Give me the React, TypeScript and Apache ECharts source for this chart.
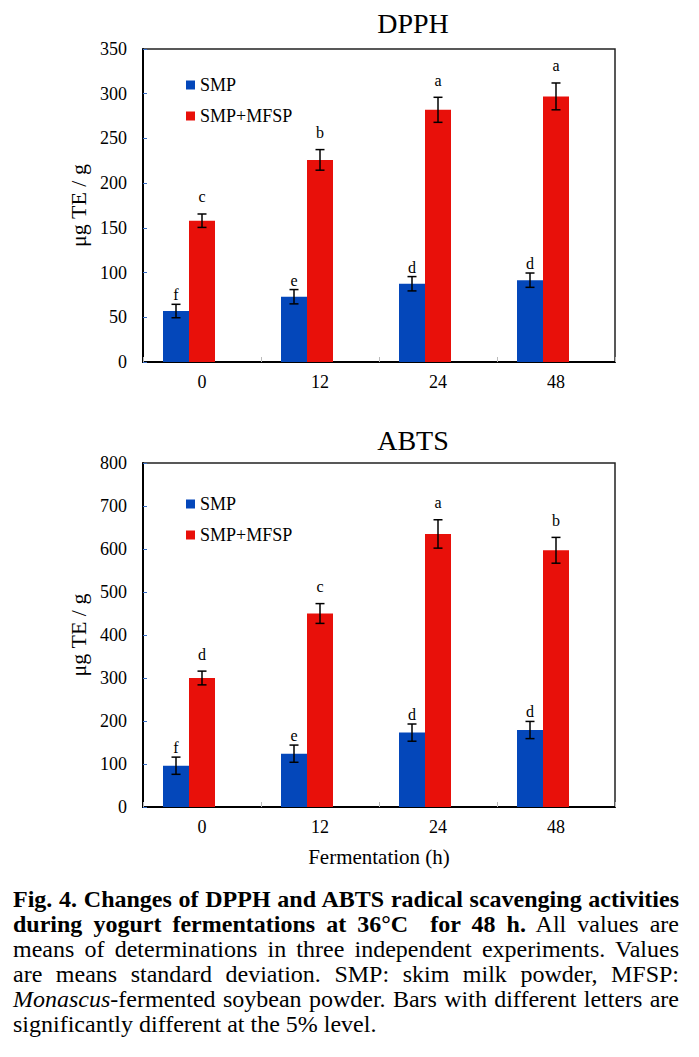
import React, { useEffect, useRef } from 'react';
import * as echarts from 'echarts';

const categories = ['0', '12', '24', '48'];
const seriesNames = ['SMP', 'SMP+MFSP'];

const dpphSMP = [57, 73, 87.5, 91.5];
const dpphSMPsd = [7.5, 8, 8, 8];
const dpphSMPletters = ['f', 'e', 'd', 'd'];
const dpphMFSP = [158, 226, 282, 297];
const dpphMFSPsd = [7.5, 11.5, 14, 15];
const dpphMFSPletters = ['c', 'b', 'a', 'a'];

const abtsSMP = [96, 124, 173, 179];
const abtsSMPsd = [20, 20, 20, 20];
const abtsSMPletters = ['f', 'e', 'd', 'd'];
const abtsMFSP = [300, 450, 635, 597];
const abtsMFSPsd = [16, 23, 33, 30];
const abtsMFSPletters = ['d', 'c', 'a', 'b'];

const dpphAxis = { min: 0, max: 350, interval: 50 };
const abtsAxis = { min: 0, max: 800, interval: 100 };

const titles = ['DPPH', 'ABTS'];
const yName = 'μg TE / g';
const xName = 'Fermentation (h)';

const FONT = '"Liberation Serif", "Times New Roman", serif';
const BLUE = '#0447BA';
const RED = '#E8100A';

function errorSeries(gridIdx: number, means: number[], sds: number[], letters: string[], offset: number, gap: number) {
  return {
    type: 'custom',
    xAxisIndex: gridIdx,
    yAxisIndex: gridIdx,
    data: means.map((m, i) => [i, m, sds[i]]),
    encode: { x: 0, y: 1 },
    z: 10,
    silent: true,
    renderItem: (params: any, api: any) => {
      const i = api.value(0);
      const m = api.value(1);
      const s = api.value(2);
      const top = api.coord([i, m + s]);
      const bot = api.coord([i, m - s]);
      const x = top[0] + offset;
      const hw = 4.5;
      const ls = { stroke: '#000', lineWidth: 1.5 };
      return {
        type: 'group',
        children: [
          { type: 'line', shape: { x1: x, y1: top[1], x2: x, y2: bot[1] }, style: ls },
          { type: 'line', shape: { x1: x - hw, y1: top[1], x2: x + hw, y2: top[1] }, style: ls },
          { type: 'line', shape: { x1: x - hw, y1: bot[1], x2: x + hw, y2: bot[1] }, style: ls },
          {
            type: 'text',
            x: x,
            y: top[1] - gap,
            style: {
              text: letters[params.dataIndex],
              align: 'center',
              verticalAlign: 'bottom',
              font: '16px ' + FONT,
              fill: '#000',
            },
          },
        ],
      };
    },
  };
}

function barSeries(gridIdx: number, name: string, data: number[], color: string) {
  return {
    type: 'bar',
    name,
    xAxisIndex: gridIdx,
    yAxisIndex: gridIdx,
    data,
    barWidth: 26,
    barGap: '0%',
    itemStyle: { color },
    silent: true,
  };
}

function ghostSeries(gridIdx: number) {
  return {
    type: 'bar',
    name: 'ghost' + gridIdx,
    xAxisIndex: gridIdx,
    yAxisIndex: gridIdx,
    data: categories.map(() => null),
    barWidth: 26,
    barGap: '0%',
    silent: true,
  };
}

const grids = [
  { left: 143, top: 49, width: 472, height: 313 },
  { left: 143, top: 463, width: 472, height: 344 },
];

function makeX(gridIdx: number, withName: boolean) {
  return {
    gridIndex: gridIdx,
    type: 'category',
    data: categories,
    axisLine: { show: true, lineStyle: { color: '#000', width: 2 } },
    axisTick: { show: true, inside: true, length: 5, lineStyle: { color: '#bbbbbb', width: 1 } },
    axisLabel: { fontSize: 18, color: '#000', fontFamily: FONT, margin: 11 },
    name: withName ? xName : '',
    nameLocation: 'middle',
    nameGap: 39,
    nameTextStyle: { fontSize: 21, color: '#000', fontFamily: FONT },
  };
}

function makeY(gridIdx: number, ax: { min: number; max: number; interval: number }) {
  return {
    gridIndex: gridIdx,
    type: 'value',
    min: ax.min,
    max: ax.max,
    interval: ax.interval,
    splitLine: { show: false },
    axisLine: { show: true, lineStyle: { color: '#000', width: 2 } },
    axisTick: { show: true, inside: true, length: 4, lineStyle: { color: '#3a6fc4', width: 1 } },
    axisLabel: { fontSize: 18, color: '#000', fontFamily: FONT, margin: 16 },
    name: yName,
    nameLocation: 'middle',
    nameGap: 47,
    nameTextStyle: { fontSize: 22, color: '#000', fontFamily: FONT },
  };
}

const justify: React.CSSProperties = { textAlign: 'justify', textAlignLast: 'justify' as any };

export default function App() {
  const ref = useRef<HTMLDivElement>(null);
  useEffect(() => {
    if (!ref.current) return;
    const chart = echarts.init(ref.current, undefined, { renderer: 'svg' });
    chart.setOption({
      animation: false,
      backgroundColor: '#fff',
      title: [
        { text: titles[0], left: 408, top: 4, textAlign: 'center', textStyle: { fontSize: 28, fontWeight: 'normal', color: '#000', fontFamily: FONT } },
        { text: titles[1], left: 408, top: 421, textAlign: 'center', textStyle: { fontSize: 28, fontWeight: 'normal', color: '#000', fontFamily: FONT } },
      ],
      legend: [
        {
          data: seriesNames,
          left: 181,
          top: 71,
          orient: 'vertical',
          itemWidth: 9,
          itemHeight: 9,
          itemGap: 13,
          icon: 'rect',
          selectedMode: false,
          textStyle: { fontSize: 18, color: '#000', fontFamily: FONT },
        },
        {
          data: seriesNames,
          left: 181,
          top: 490,
          orient: 'vertical',
          itemWidth: 9,
          itemHeight: 9,
          itemGap: 13,
          icon: 'rect',
          selectedMode: false,
          textStyle: { fontSize: 18, color: '#000', fontFamily: FONT },
        },
      ],
      grid: grids.map((g) => ({ ...g, show: true, borderColor: '#222', borderWidth: 1.5, backgroundColor: 'transparent' })),
      xAxis: [makeX(0, false), makeX(1, true)],
      yAxis: [makeY(0, dpphAxis), makeY(1, abtsAxis)],
      series: [
        barSeries(0, seriesNames[0], dpphSMP, BLUE),
        barSeries(0, seriesNames[1], dpphMFSP, RED),
        ghostSeries(0),
        barSeries(1, seriesNames[0], abtsSMP, BLUE),
        barSeries(1, seriesNames[1], abtsMFSP, RED),
        ghostSeries(1),
        errorSeries(0, dpphSMP, dpphSMPsd, dpphSMPletters, -26, 1.5),
        errorSeries(0, dpphMFSP, dpphMFSPsd, dpphMFSPletters, 0, 9),
        errorSeries(1, abtsSMP, abtsSMPsd, abtsSMPletters, -26, 1.5),
        errorSeries(1, abtsMFSP, abtsMFSPsd, abtsMFSPletters, 0, 9),
      ],
    });
    return () => chart.dispose();
  }, []);

  return (
    <div style={{ position: 'absolute', left: 0, top: 0, width: 699, height: 1057, background: '#fff', overflow: 'hidden' }}>
      <div ref={ref} style={{ position: 'absolute', left: 0, top: 0, width: 699, height: 880 }} />
      <div
        style={{
          position: 'absolute',
          left: 13,
          top: 887,
          width: 666,
          fontFamily: FONT,
          fontSize: 24,
          lineHeight: '25px',
          color: '#000',
        }}
      >
        <div style={justify}><b>Fig. 4. Changes of DPPH and ABTS radical scavenging activities</b></div>
        <div style={justify}><b>during yogurt fermentations at 36°C&nbsp; for 48 h.</b> All values are</div>
        <div style={justify}>means of determinations in three independent experiments. Values</div>
        <div style={justify}>are means standard deviation. SMP: skim milk powder, MFSP:</div>
        <div style={justify}><i>Monascus</i>-fermented soybean powder. Bars with different letters are</div>
        <div>significantly different at the 5% level.</div>
      </div>
    </div>
  );
}
